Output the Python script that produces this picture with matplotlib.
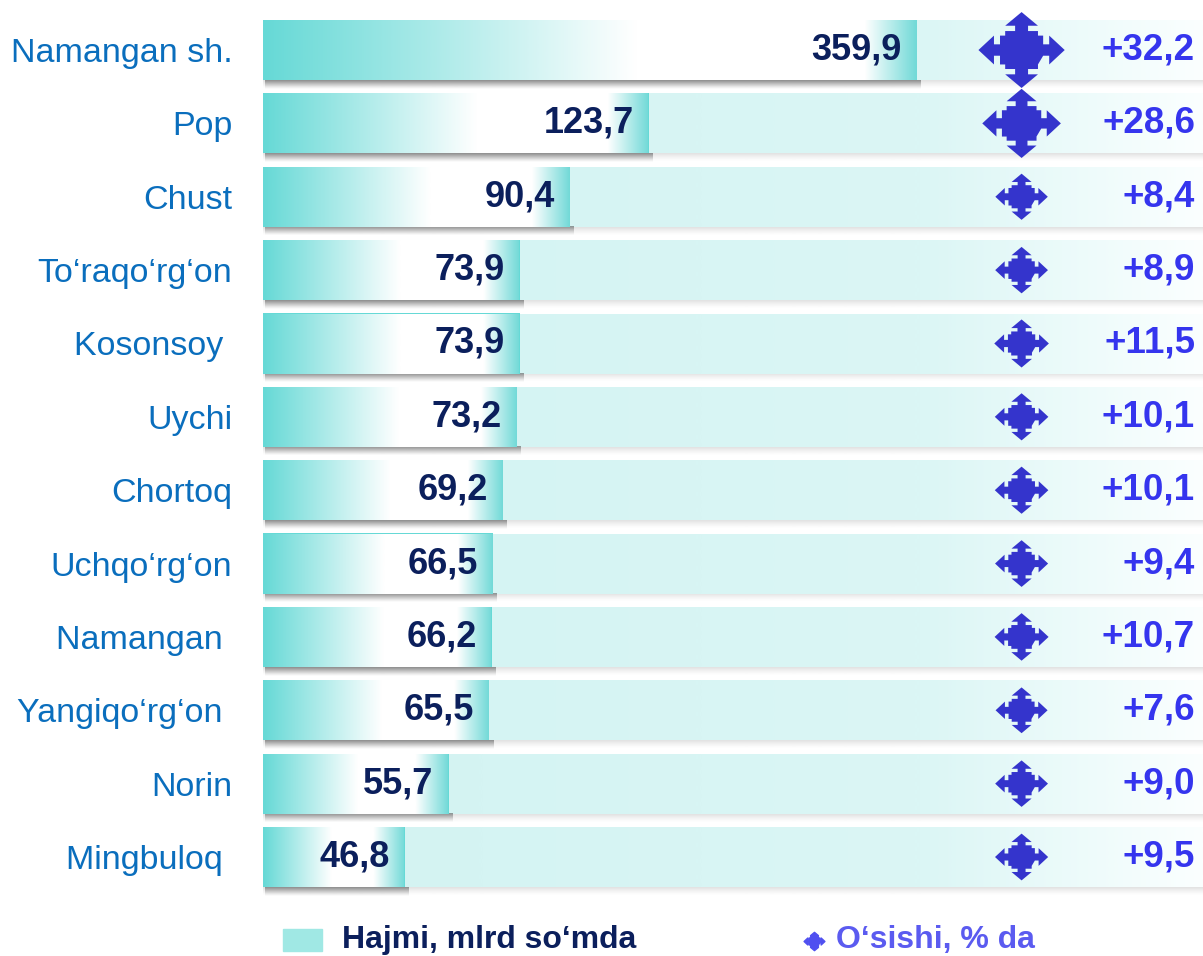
import numpy as np
import matplotlib.pyplot as plt
from matplotlib.path import Path
from matplotlib.patches import Rectangle
from matplotlib.lines import Line2D
from matplotlib.colors import to_rgb

plt.rcParams['font.family'] = ['Liberation Sans', 'DejaVu Sans']

regions = ['Namangan sh.', 'Pop', 'Chust', 'To‘raqo‘rg‘on', 'Kosonsoy ', 'Uychi',
           'Chortoq', 'Uchqo‘rg‘on', 'Namangan ', 'Yangiqo‘rg‘on ', 'Norin', 'Mingbuloq ']
volume = [359.9, 123.7, 90.4, 73.9, 73.9, 73.2, 69.2, 66.5, 66.2, 65.5, 55.7, 46.8]
growth = [32.2, 28.6, 8.4, 8.9, 11.5, 10.1, 10.1, 9.4, 10.7, 7.6, 9.0, 9.5]

W, H = 1203, 956
x_left, x_right = 26.6, 1124   # log axis limits, bars start at the left edge
bar_h = 0.82


def fmt(v):
    return f'{v:.1f}'.replace('.', ',')


def gradient(stops, colors, n=512):
    pos = np.linspace(0, 1, n)
    rgb = np.array([to_rgb(c) for c in colors])
    return np.stack([np.interp(pos, stops, rgb[:, k]) for k in range(3)], axis=-1)[None, :, :]


def arrow_cross(sx=1.0, sy=0.88):
    arm = [(0.50, -0.15), (0.64, -0.15), (0.64, -0.38), (1.0, 0.0), (0.64, 0.38),
           (0.64, 0.15), (0.50, 0.15), (0.50, 0.38), (0.38, 0.38), (0.38, 0.50)]
    pts = []
    for k in range(4):
        a = k * np.pi / 2
        c, s = np.cos(a), np.sin(a)
        pts += [(c * x - s * y, s * x + c * y) for x, y in arm]
    pts = np.array(pts)
    pts[:, 0] *= sx
    pts[:, 1] *= sy
    return Path(pts, closed=True)


marker = arrow_cross()

fig = plt.figure(figsize=(W / 100, H / 100), dpi=100)
ax = fig.add_axes([263 / W, 1 - 900 / H, 940 / W, 900 / H])
ax.set_xscale('log')
ax.set_xlim(x_left, x_right)
ax.set_ylim(len(regions) - 0.414, -0.682)
for sp in ax.spines.values():
    sp.set_visible(False)
ax.tick_params(axis='x', which='both', bottom=False, labelbottom=False)
ax.set_yticks(range(len(regions)), regions)
ax.tick_params(axis='y', which='both', length=0, pad=22, labelsize=24.5, labelcolor='#0a6ebd')

yax = ax.get_yaxis_transform()
rows = np.arange(len(regions))

# shadow strips under each row
shadow = np.zeros((32, 1, 4))
shadow[:, 0, :3] = 0.40
shadow[:, 0, 3] = np.linspace(0.8, 0, 32) ** 1.3
band_shadow = shadow.copy()
band_shadow[:, 0, :3] = 0.6
band_shadow[:, 0, 3] *= 0.45

band_img = gradient([0, 0.7, 1.0], ['#d2f3f2', '#dbf6f5', '#fbffff'])

bars = ax.barh(rows, [v - x_left for v in volume], left=x_left, height=bar_h,
               color='#66d9d6', zorder=4)

for i, (rect, v) in enumerate(zip(bars, volume)):
    top, bot = i - bar_h / 2, i + bar_h / 2
    ax.imshow(band_shadow, extent=(0, 1, bot + 0.12, bot - 0.01), transform=yax,
              aspect='auto', zorder=1, interpolation='bilinear')
    ax.imshow(band_img, extent=(0, 1, bot, top), transform=yax,
              aspect='auto', zorder=2, interpolation='bilinear')
    x1 = ax.transAxes.inverted().transform(ax.transData.transform((v, i)))[0]
    ax.imshow(shadow, extent=(0.002, x1 + 0.005, bot + 0.13, bot - 0.01), transform=yax,
              aspect='auto', zorder=3, interpolation='bilinear')
    # end ramp about 30 px wide whatever the bar length
    ramp = min(0.3, (26 + 0.04 * x1 * 940) / (x1 * 940))
    bar_img = gradient([0, 0.62 * (1 - ramp), 1 - ramp, 1.0],
                       ['#66d9d6', '#ffffff', '#ffffff', '#70d9d7'])
    im = ax.imshow(bar_img, extent=(0, x1, bot, top), transform=yax,
                   aspect='auto', zorder=5, interpolation='bilinear')
    im.set_clip_path(rect)
    ax.annotate(fmt(v), xy=(v, i), xytext=(-11, 0), textcoords='offset points',
                ha='right', va='center', fontsize=26, fontweight='bold',
                color='#0b1f5c', zorder=7)
    ax.text(0.9915, i, '+' + fmt(growth[i]), transform=yax, ha='right', va='center',
            fontsize=26.5, fontweight='bold', color='#3535ee', zorder=7)

sizes = (50 + 0.035 * np.array(growth) ** 2) * 0.72
ax.scatter(np.full(len(rows), 0.807), rows, s=sizes ** 2, marker=marker,
           transform=yax, color='#3434cc', zorder=6, clip_on=False, linewidths=0)

ax.set_xlim(x_left, x_right)
ax.set_ylim(len(regions) - 0.414, -0.682)

# legend
fig.patches.append(Rectangle((283 / W, 1 - 951 / H), 39 / W, 22 / H,
                             transform=fig.transFigure, color='#a0e8e4'))
fig.text(342 / W, 1 - 940 / H, 'Hajmi, mlrd so‘mda', va='center', fontsize=23,
         fontweight='bold', color='#0b1f5c')
fig.add_artist(Line2D([814 / W], [1 - 941 / H], marker=marker, markersize=15,
                      color='#5050f0', linestyle='none', transform=fig.transFigure))
fig.text(836 / W, 1 - 940 / H, 'O‘sishi, % da', va='center', fontsize=23,
         fontweight='bold', color='#5b5bf0')

fig.savefig('out.png', dpi=100)
